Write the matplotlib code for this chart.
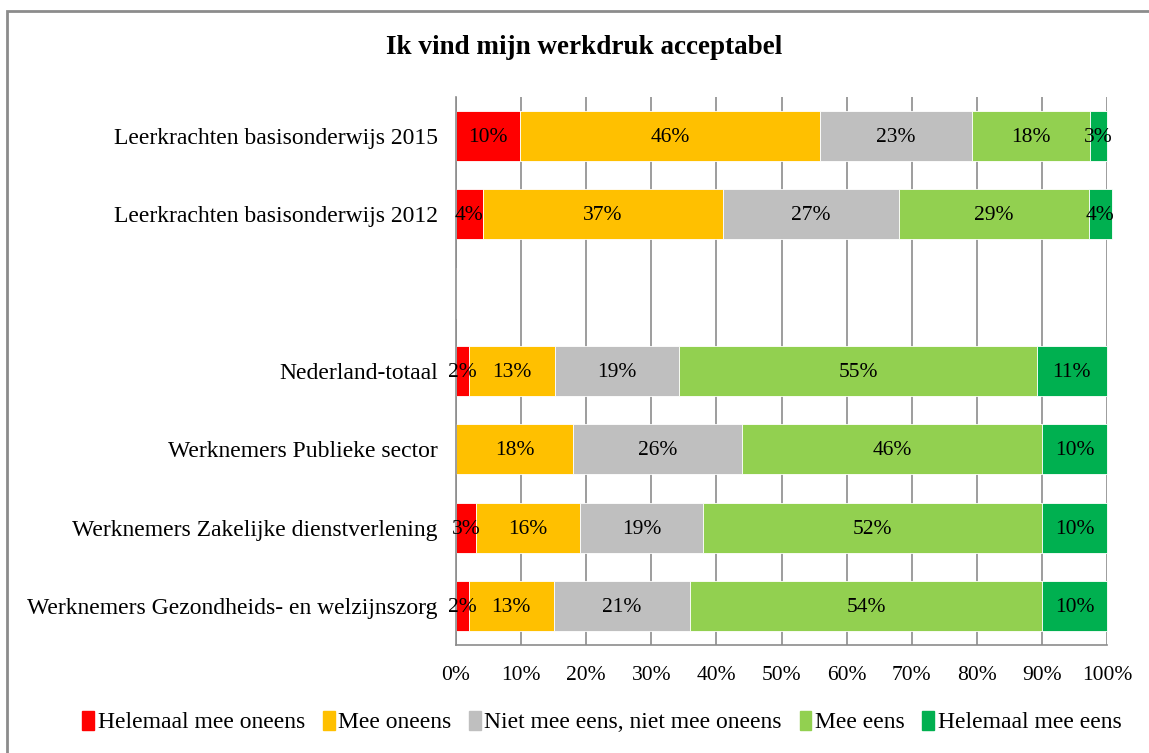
import matplotlib
matplotlib.use("Agg")
import matplotlib.pyplot as plt
from matplotlib.patches import Rectangle, Patch

plt.rcParams['font.family'] = ['Liberation Serif', 'DejaVu Serif']

categories = [
    "Leerkrachten basisonderwijs 2015",
    "Leerkrachten basisonderwijs 2012",
    "",
    "Nederland-totaal",
    "Werknemers Publieke sector",
    "Werknemers Zakelijke dienstverlening",
    "Werknemers Gezondheids- en welzijnszorg",
]
series_names = [
    "Helemaal mee oneens",
    "Mee oneens",
    "Niet mee eens, niet mee oneens",
    "Mee eens",
    "Helemaal mee eens",
]
helemaal_oneens = [9.8, 4.1, 0, 2.0, 0, 3.0, 2.0]
oneens = [46.1, 36.9, 0, 13.2, 18.0, 16.0, 13.0]
neutraal = [23.4, 27.0, 0, 19.1, 26.0, 19.0, 21.0]
eens = [18.1, 29.2, 0, 54.9, 46.0, 52.0, 54.0]
helemaal_eens = [2.6, 3.6, 0, 10.8, 10.0, 10.0, 10.0]
colors = ["#FF0000", "#FFC000", "#BFBFBF", "#92D050", "#00B050"]

series = [helemaal_oneens, oneens, neutraal, eens, helemaal_eens]

fig = plt.figure(figsize=(11.49, 7.53), dpi=100)
ax = fig.add_axes([456 / 1149, 1 - 645 / 753, 651 / 1149, 548 / 753])

ypos = list(range(len(categories)))
left = [0.0] * len(categories)
for vals, name, col in zip(series, series_names, colors):
    ax.barh(ypos, vals, left=left, height=0.64, color=col, label=name,
            edgecolor="white", linewidth=0.6, zorder=2, clip_on=False)
    for y, v, l in zip(ypos, vals, left):
        if v > 0:
            ax.text(l + v / 2, y + 0.02, f"{round(v)}%", ha="center", va="center",
                    fontsize=15.5, zorder=3)
    left = [a + b for a, b in zip(left, vals)]

ax.set_ylim(len(categories) - 0.5, -0.5)
ax.set_xlim(0, 100)
ax.set_yticks(ypos)
ax.set_yticklabels(categories, fontsize=17)
ax.set_xticks(range(0, 101, 10))
ax.set_xticklabels([f"{t}%" for t in range(0, 101, 10)], fontsize=15.5)
ax.tick_params(axis="both", length=0)
ax.tick_params(axis="y", pad=13)
ax.tick_params(axis="x", pad=15)
ax.xaxis.grid(True, color="#8C8C8C", linewidth=1.2, zorder=0)
ax.set_axisbelow(True)
for s in ["top", "right"]:
    ax.spines[s].set_visible(False)
for s in ["left", "bottom"]:
    ax.spines[s].set_color("#8C8C8C")
    ax.spines[s].set_linewidth(1.2)

fig.text(584 / 1149, 1 - 47 / 753, "Ik vind mijn werkdruk acceptabel",
         ha="center", va="center", fontsize=19.5, fontweight="bold")

handles = [Patch(color=c, label=n) for c, n in zip(colors, series_names)]
fig.legend(handles=handles, loc="center", bbox_to_anchor=(602 / 1149, 1 - 722 / 753),
           ncol=5, frameon=False, fontsize=17, handlelength=0.5, handleheight=0.9,
           handletextpad=0.15, columnspacing=0.75)

fig.patches.append(Rectangle((7 / 1149, -0.1), 1.2, 1 - 11 / 753 + 0.1,
                             transform=fig.transFigure, fill=False,
                             edgecolor="#8C8C8C", linewidth=2))

fig.savefig("out.png", dpi=100)
